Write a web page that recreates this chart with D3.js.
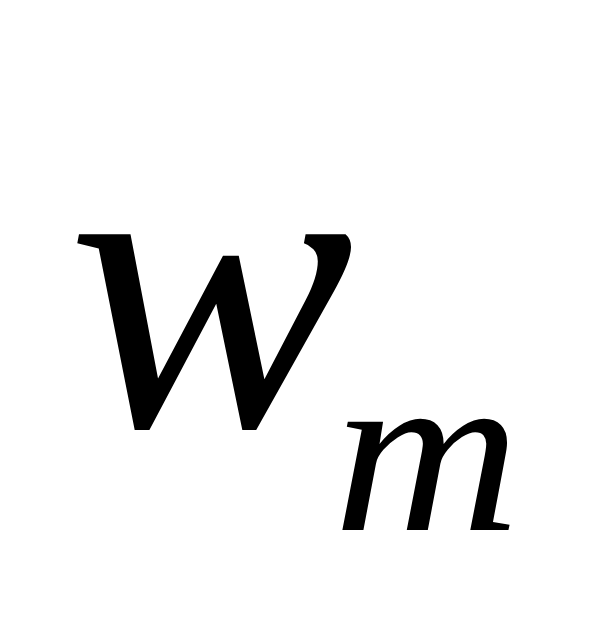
<!DOCTYPE html>
<html>
<head>
<meta charset="utf-8">
<script src="https://cdn.jsdelivr.net/npm/d3@7"></script>
<style>
  html, body { margin: 0; padding: 0; background: #fff; }
</style>
</head>
<body>
<div id="chart"></div>
<script>
// Symbol parts: main letter and its subscript
const symbolBase = ["w"];
const symbolSub = ["m"];

const width = 599, height = 635;
const fontFamily = "'Liberation Serif', 'Times New Roman', serif";

const svg = d3.select("#chart")
  .append("svg")
  .attr("width", width)
  .attr("height", height);

svg.append("rect")
  .attr("width", width)
  .attr("height", height)
  .attr("fill", "#fff");

// main letter
svg.selectAll("text.base")
  .data(symbolBase)
  .join("text")
  .attr("class", "base")
  .attr("transform", "translate(67,426) scale(1.03,1)")
  .style("font-family", fontFamily)
  .style("font-style", "italic")
  .style("font-size", "418px")
  .attr("fill", "#000")
  .text(d => d);

// subscript, widened a little to match the wider Times m
svg.selectAll("text.sub")
  .data(symbolSub)
  .join("text")
  .attr("class", "sub")
  .attr("transform", "translate(333,530) scale(1.1,1)")
  .style("font-family", fontFamily)
  .style("font-style", "italic")
  .style("font-size", "236px")
  .attr("fill", "#000")
  .text(d => d);
</script>
</body>
</html>
